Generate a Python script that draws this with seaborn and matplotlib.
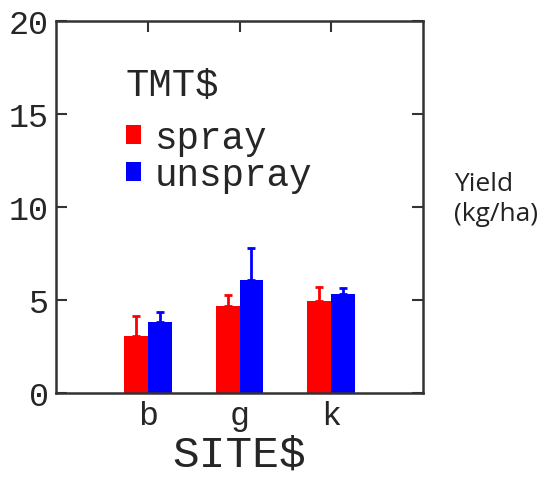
import numpy as np
import pandas as pd
import seaborn as sns
import matplotlib.pyplot as plt

# valores
sites = ['b', 'g', 'k']
tmt = ['spray', 'unspray']
spray = [3.05, 4.7, 4.95]
unspray = [3.8, 6.1, 5.3]
spray_err = [1.1, 0.55, 0.75]
unspray_err = [0.55, 1.7, 0.35]
yticks = [0, 5, 10, 15, 20]

df = pd.DataFrame({
    'SITE$': sites * 2,
    'TMT$': ['spray'] * 3 + ['unspray'] * 3,
    'yield': spray + unspray,
    'err': spray_err + unspray_err,
})

sns.set_style('white')
plt.rcParams['font.family'] = ['Liberation Mono', 'DejaVu Sans Mono']

fig = plt.figure(figsize=(5.59, 4.81), dpi=100)
ax = fig.add_axes([0.100, 0.181, 0.657, 0.773])

cores = {'spray': '#ff0000', 'unspray': '#0000ff'}
sns.barplot(data=df, x='SITE$', y='yield', hue='TMT$', hue_order=tmt,
            palette=cores, errorbar=None, width=0.52, gap=0, saturation=1,
            linewidth=0, ax=ax)

# barras de erro so para cima
for cont, t in zip(ax.containers, tmt):
    sub = df[df['TMT$'] == t]
    xs = [p.get_x() + p.get_width() / 2 for p in cont.patches]
    ax.errorbar(xs, sub['yield'], yerr=[np.zeros(len(sub)), sub['err']],
                fmt='none', ecolor=cores[t], elinewidth=2, capsize=3,
                capthick=2)

ax.set_xlim(-1, 3)
ax.set_ylim(0, 20)
ax.set_yticks(yticks)
ax.set_yticklabels([str(v) for v in yticks], fontsize=24)
ax.tick_params(axis='x', labelsize=24)
ax.tick_params(direction='in', length=8, width=1.5, color='#333333',
               top=True, right=True, left=True, bottom=True, pad=5)
for s in ax.spines.values():
    s.set_color('#333333')
    s.set_linewidth(1.8)

ax.set_xlabel('SITE$', fontsize=32, labelpad=2)
ax.set_ylabel('')

leg = ax.legend(title='TMT$', loc='upper left', bbox_to_anchor=(0.19, 0.876),
                frameon=False, fontsize=27, title_fontsize=28,
                alignment='left', handlelength=0.42, handleheight=0.42,
                handletextpad=0.35, labelspacing=0.02, borderpad=0,
                borderaxespad=0)
leg._legend_box.sep = 12

fig.text(0.812, 0.585, 'Yield\n(kg/ha)', fontsize=19, family='Open Sans',
         ha='left', va='center', linespacing=1.25, color='#222222')

fig.savefig('out.png', dpi=100)
